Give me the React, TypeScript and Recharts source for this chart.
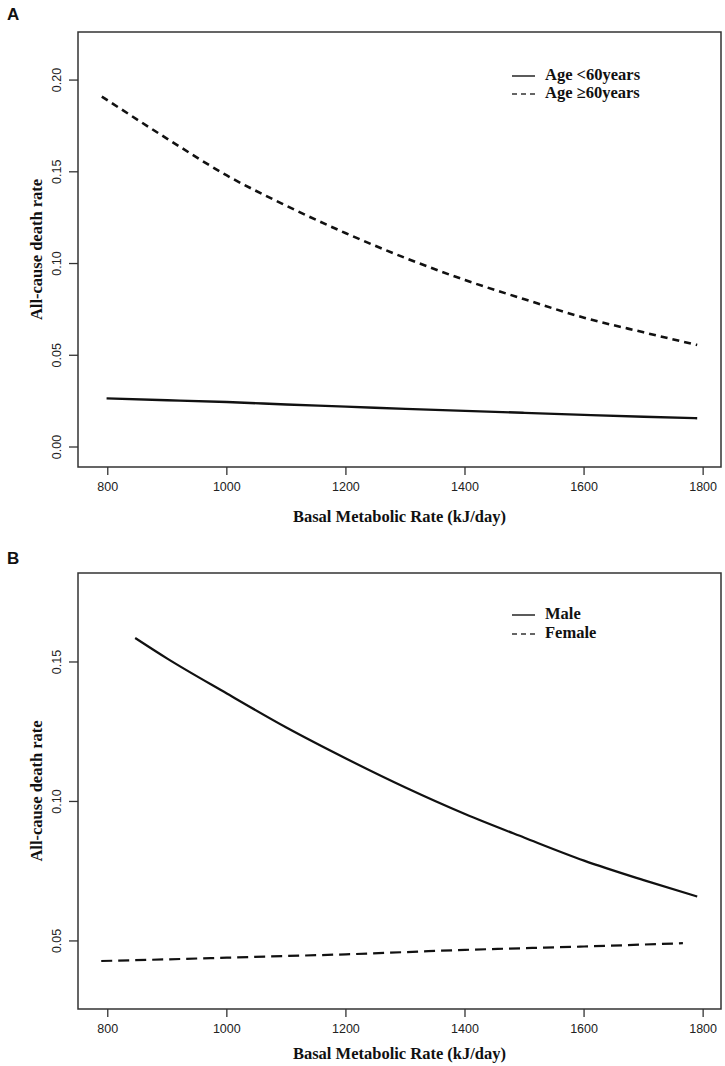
import React from 'react';
import { LineChart, Line, XAxis, YAxis, ReferenceArea } from 'recharts';

// x ticks shared by both panels
const xTicks = [800, 1000, 1200, 1400, 1600, 1800];

// Panel A: age groups
const aTicks = [0, 0.05, 0.1, 0.15, 0.2];
const youngX = [798, 900, 1000, 1100, 1200, 1300, 1400, 1500, 1600, 1700, 1790];
const youngY = [0.0265, 0.0255, 0.0245, 0.0232, 0.022, 0.0208, 0.0197, 0.0186, 0.0175, 0.0165, 0.0157];
const oldX = [790, 900, 1000, 1100, 1200, 1300, 1400, 1500, 1600, 1700, 1790];
const oldY = [0.191, 0.168, 0.148, 0.1315, 0.1165, 0.103, 0.091, 0.0805, 0.0705, 0.0625, 0.0556];

// Panel B: sex
const bTicks = [0.05, 0.1, 0.15];
const maleX = [846, 900, 1000, 1100, 1200, 1300, 1400, 1500, 1600, 1700, 1790];
const maleY = [0.1586, 0.1512, 0.1387, 0.1265, 0.1154, 0.105, 0.0955, 0.087, 0.0788, 0.0718, 0.0659];
const femaleX = [789, 900, 1000, 1100, 1200, 1300, 1400, 1500, 1600, 1700, 1766];
const femaleY = [0.0428, 0.0434, 0.044, 0.0446, 0.0452, 0.046, 0.0468, 0.0474, 0.048, 0.0487, 0.0492];

const toPoints = (xs: number[], ys: number[]) => xs.map((x, i) => ({ x, y: ys[i] }));

const SANS = '"Liberation Sans", Arial, sans-serif';
const SERIF = '"Liberation Serif", "Times New Roman", serif';
const INK = '#111';
const BOX = '#333';

const xDomain: [number, number] = [750, 1830];

const YTick = (props: any) => {
    const { x, y, payload } = props;
    const cx = x - 9;
    return (
        <text
            x={cx}
            y={y}
            transform={`rotate(-90, ${cx}, ${y})`}
            textAnchor="middle"
            dominantBaseline="central"
            fontFamily={SANS}
            fontSize={12.5}
            fill="#222"
        >
            {payload.value.toFixed(2)}
        </text>
    );
};

const XTitle = (props: any) => {
    const vb = props.viewBox;
    return (
        <text
            x={vb.x + vb.width / 2}
            y={vb.y + props.dy}
            textAnchor="middle"
            dominantBaseline="central"
            fontFamily={SERIF}
            fontWeight="bold"
            fontSize={16.5}
            fill={INK}
        >
            Basal Metabolic Rate (kJ/day)
        </text>
    );
};

const YTitle = (props: any) => {
    const vb = props.viewBox;
    const cx = vb.x + vb.width - 42;
    const cy = vb.y + vb.height / 2;
    return (
        <text
            x={cx}
            y={cy}
            transform={`rotate(-90, ${cx}, ${cy})`}
            textAnchor="middle"
            dominantBaseline="central"
            fontFamily={SERIF}
            fontWeight="bold"
            fontSize={16.5}
            fill={INK}
        >
            All-cause death rate
        </text>
    );
};

type Series = { name: string; data: { x: number; y: number }[]; dash?: string; width: number };

function Panel(props: {
    top: number;
    marginTop: number;
    marginBottom: number;
    yDomain: [number, number];
    yTicks: number[];
    series: Series[];
    titleDy: number;
}) {
    const { top, marginTop, marginBottom, yDomain, yTicks, series, titleDy } = props;
    return (
        <div style={{ position: 'absolute', left: 0, top }}>
            <LineChart
                width={725}
                height={533}
                margin={{ top: marginTop, right: 4, left: 18, bottom: marginBottom }}
            >
                <XAxis
                    dataKey="x"
                    type="number"
                    domain={xDomain}
                    ticks={xTicks}
                    allowDataOverflow
                    height={50}
                    axisLine={false}
                    tickLine={{ stroke: BOX, strokeWidth: 1.3 }}
                    tickSize={8}
                    tickMargin={7}
                    tick={{ fontFamily: SANS, fontSize: 12.5, fill: '#222' }}
                    label={<XTitle dy={titleDy} />}
                />
                <YAxis
                    dataKey="y"
                    type="number"
                    domain={yDomain}
                    ticks={yTicks}
                    allowDataOverflow
                    width={60}
                    axisLine={false}
                    tickLine={{ stroke: BOX, strokeWidth: 1.3 }}
                    tickSize={9}
                    tickMargin={3}
                    tick={<YTick />}
                    label={<YTitle />}
                />
                <ReferenceArea
                    x1={xDomain[0]}
                    x2={xDomain[1]}
                    y1={yDomain[0]}
                    y2={yDomain[1]}
                    fill="none"
                    fillOpacity={0}
                    stroke={BOX}
                    strokeWidth={1.5}
                    ifOverflow="visible"
                />
                {series.map((s) => (
                    <Line
                        key={s.name}
                        data={s.data}
                        dataKey="y"
                        name={s.name}
                        type="monotone"
                        stroke={INK}
                        strokeWidth={s.width}
                        strokeDasharray={s.dash}
                        dot={false}
                        activeDot={false}
                        isAnimationActive={false}
                    />
                ))}
            </LineChart>
        </div>
    );
}

function LegendBox(props: { left: number; top: number; rowGap: number; items: Series[] }) {
    return (
        <div style={{ position: 'absolute', left: props.left, top: props.top }}>
            {props.items.map((s, i) => (
                <div
                    key={s.name}
                    style={{
                        position: 'absolute',
                        left: 0,
                        top: i * props.rowGap,
                        height: 18,
                        display: 'flex',
                        alignItems: 'center',
                        whiteSpace: 'nowrap',
                    }}
                >
                    <svg width={33} height={18}>
                        <line
                            x1={0}
                            x2={23}
                            y1={10}
                            y2={10}
                            stroke="#333"
                            strokeWidth={1.6}
                            strokeDasharray={s.dash ? '5 4' : undefined}
                        />
                    </svg>
                    <span
                        style={{
                            fontFamily: SERIF,
                            fontWeight: 'bold',
                            fontSize: 16.5,
                            color: INK,
                            lineHeight: '18px',
                        }}
                    >
                        {s.name}
                    </span>
                </div>
            ))}
        </div>
    );
}

const panelLetter = (text: string, left: number, top: number) => (
    <div
        style={{
            position: 'absolute',
            left,
            top,
            fontFamily: SANS,
            fontWeight: 'bold',
            fontSize: 17,
            lineHeight: '17px',
            color: INK,
        }}
    >
        {text}
    </div>
);

export default function App() {
    const seriesA: Series[] = [
        { name: 'Age <60years', data: toPoints(youngX, youngY), width: 2.4 },
        { name: 'Age \u226560years', data: toPoints(oldX, oldY), dash: '7 5', width: 2.6 },
    ];
    const seriesB: Series[] = [
        { name: 'Male', data: toPoints(maleX, maleY), width: 2.2 },
        { name: 'Female', data: toPoints(femaleX, femaleY), dash: '11 6', width: 2.2 },
    ];

    return (
        <div
            style={{
                position: 'absolute',
                left: 0,
                top: 0,
                width: 725,
                height: 1066,
                background: '#fff',
                overflow: 'hidden',
            }}
        >
            {panelLetter('A', 7, 6)}
            {panelLetter('B', 7, 550)}
            <Panel
                top={0}
                marginTop={32}
                marginBottom={16}
                yDomain={[-0.0109, 0.2262]}
                yTicks={aTicks}
                series={seriesA}
                titleDy={49}
            />
            <Panel
                top={533}
                marginTop={40}
                marginBottom={7}
                yDomain={[0.0256, 0.1819]}
                yTicks={bTicks}
                series={seriesB}
                titleDy={44}
            />
            <LegendBox left={512} top={66} rowGap={18} items={seriesA} />
            <LegendBox left={512} top={605} rowGap={19} items={seriesB} />
        </div>
    );
}
